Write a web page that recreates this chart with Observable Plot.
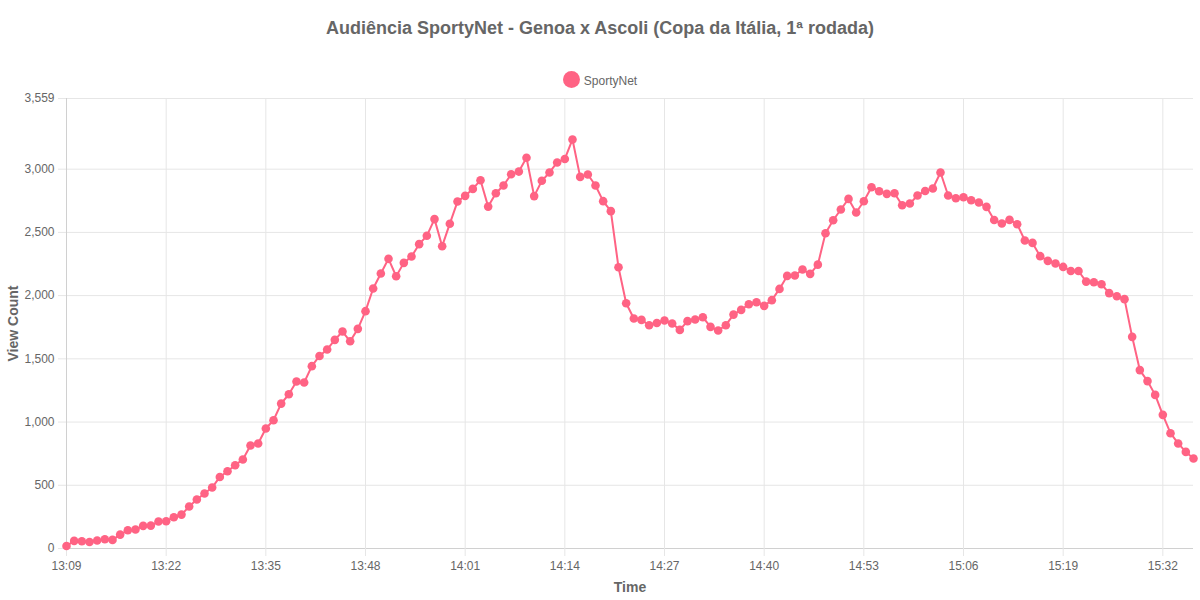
<!DOCTYPE html>
<html>
<head>
<meta charset="utf-8">
<script src="https://cdn.jsdelivr.net/npm/d3@7"></script>
<script src="https://cdn.jsdelivr.net/npm/@observablehq/plot@0.6"></script>
<style>
  html, body { margin:0; padding:0; background:#fff; }
  body { width:1200px; height:600px; font-family:"Liberation Sans", Arial, Helvetica, sans-serif; color:#666; }
  #head { position:relative; height:90px; }
  #title { position:absolute; left:0; width:1200px; top:18px; text-align:center; font-size:18px; font-weight:bold; color:#666; }
  #legend { position:absolute; left:0; width:1200px; top:72px; text-align:center; font-size:12px; color:#666; }
  #legend .dot { display:inline-block; width:17px; height:17px; border-radius:50%; background:#ff6384; vertical-align:middle; margin-right:4px; position:relative; top:-1px; }
  #legend span.t { vertical-align:middle; }
  svg { font-family:"Liberation Sans", Arial, Helvetica, sans-serif; }
  g[aria-label="y-axis label"] text, g[aria-label="x-axis label"] text { font-weight:bold; font-size:14px; fill:#666; }
</style>
</head>
<body>
<div id="head">
  <div id="title">Audiência SportyNet - Genoa x Ascoli (Copa da Itália, 1ª rodada)</div>
  <div id="legend"><span class="dot"></span><span class="t">SportyNet</span></div>
</div>
<div id="chart"></div>
<script>
const seriesName = "SportyNet";
const startTime = "13:09";
const viewCounts = [
  20, 60, 57, 52, 63, 73, 68, 110, 144, 150,
  179, 181, 213, 216, 247, 268, 332, 387, 435, 482,
  566, 611, 659, 704, 815, 830, 949, 1014, 1146, 1220,
  1321, 1313, 1442, 1523, 1574, 1650, 1716, 1639, 1737, 1877,
  2056, 2175, 2291, 2153, 2259, 2309, 2407, 2473, 2605, 2391,
  2569, 2744, 2789, 2844, 2913, 2704, 2810, 2871, 2960, 2981,
  3090, 2787, 2908, 2974, 3053, 3081, 3235, 2939, 2958, 2871,
  2747, 2668, 2224, 1940, 1819, 1808, 1766, 1784, 1803, 1779,
  1729, 1798, 1811, 1829, 1753, 1724, 1766, 1850, 1887, 1932,
  1948, 1919, 1964, 2053, 2156, 2159, 2206, 2172, 2245, 2493,
  2596, 2681, 2765, 2657, 2746, 2857, 2826, 2805, 2810, 2715,
  2728, 2792, 2828, 2847, 2974, 2792, 2770, 2778, 2754, 2736,
  2702, 2598, 2570, 2599, 2565, 2436, 2417, 2312, 2275, 2254,
  2227, 2195, 2195, 2111, 2106, 2090, 2020, 1995, 1972, 1674,
  1411, 1324, 1215, 1057, 912, 831, 764, 712
];
const xTickLabels = ["13:09","13:22","13:35","13:48","14:01","14:14","14:27","14:40","14:53","15:06","15:19","15:32"];
const yTicks = [0, 500, 1000, 1500, 2000, 2500, 3000, 3559];
const yMax = 3559;

const [h0, m0] = startTime.split(":").map(Number);
const toDate = (h, m) => new Date(Date.UTC(2024, 0, 1, h, m));
const data = viewCounts.map((v, i) => ({ t: toDate(h0, m0 + i), v }));
const xTicks = xTickLabels.map(s => { const [h, m] = s.split(":").map(Number); return toDate(h, m); });

const grid = "#e6e6e6";
const pink = "#ff6384";

const chart = Plot.plot({
  width: 1200,
  height: 510,
  marginTop: 8,
  marginBottom: 52,
  marginLeft: 66,
  marginRight: 7,
  style: { fontSize: "12px", color: "#666", background: "#fff" },
  x: { type: "utc", domain: [data[0].t, data[data.length - 1].t] },
  y: { domain: [0, yMax] },
  marks: [
    Plot.gridY(yTicks, { stroke: grid, strokeOpacity: 1 }),
    Plot.gridX(xTicks, { stroke: grid, strokeOpacity: 1 }),
    Plot.ruleY([0], { stroke: "#d0d0d0" }),
    Plot.ruleX([data[0].t], { stroke: "#d0d0d0" }),
    Plot.axisY(yTicks, { tickSize: 8, tickPadding: 4, stroke: grid, fill: "#666", tickFormat: d3.format(","),
      label: "View Count", labelAnchor: "center", labelArrow: "none", labelOffset: 58 }),
    Plot.axisX(xTicks, { tickSize: 8, tickPadding: 5, stroke: grid, fill: "#666", tickFormat: d3.utcFormat("%H:%M"),
      label: "Time", labelAnchor: "center", labelArrow: "none", labelOffset: 43 }),
    Plot.lineY(data, { x: "t", y: "v", stroke: pink, strokeWidth: 2, title: () => seriesName }),
    Plot.dot(data, { x: "t", y: "v", fill: pink, r: 4.3, stroke: "none" })
  ]
});
document.getElementById("chart").appendChild(chart);
</script>
</body>
</html>
